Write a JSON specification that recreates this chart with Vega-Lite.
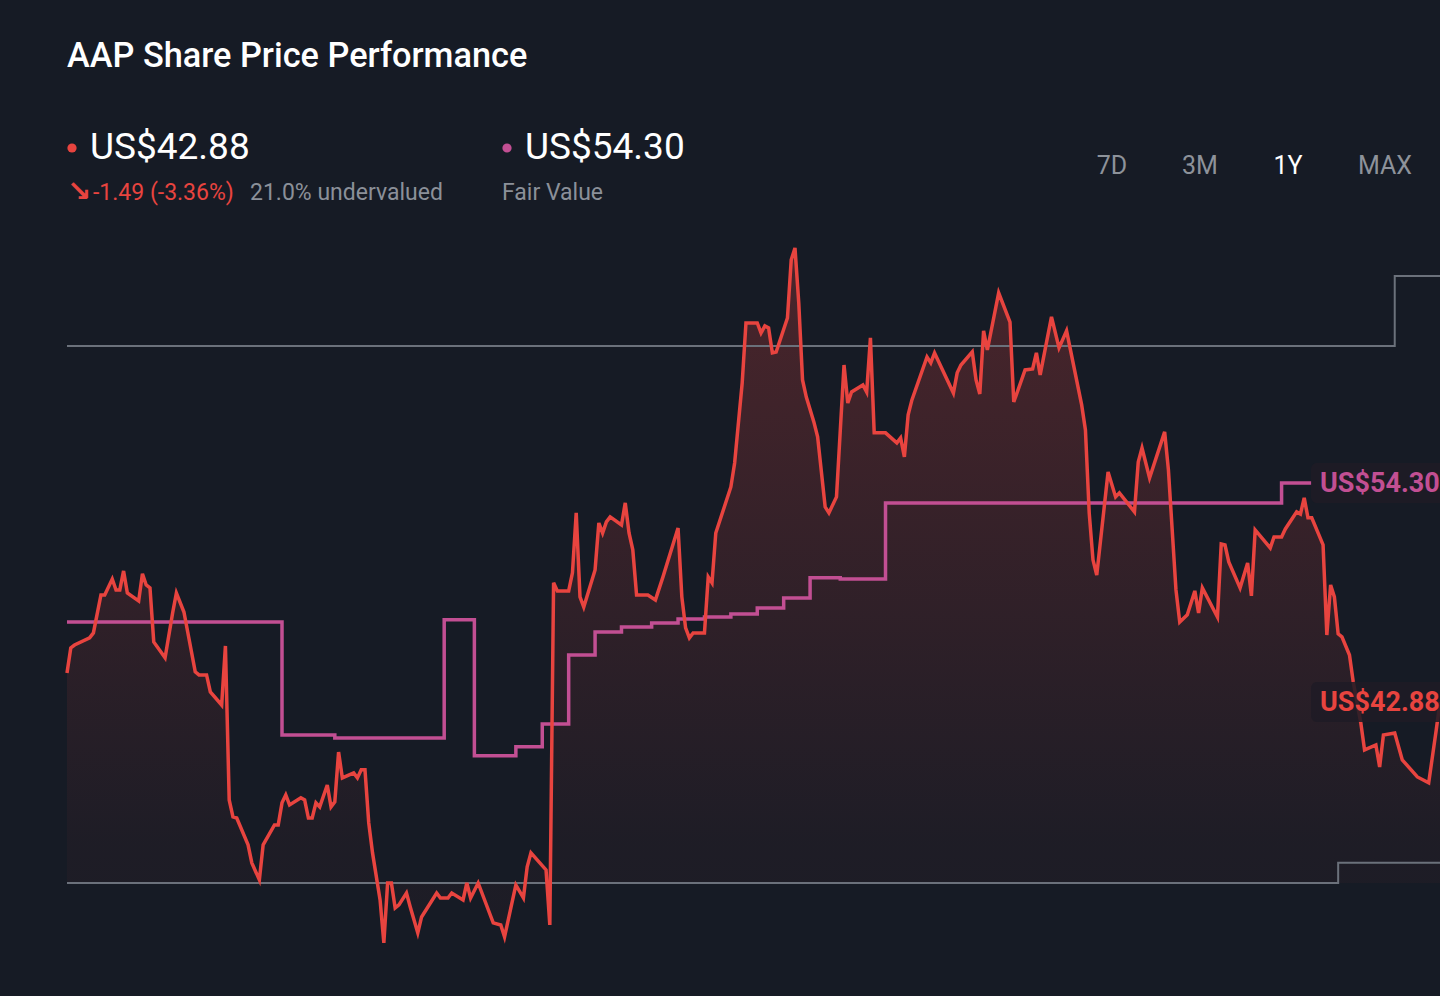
{
  "$schema": "https://vega.github.io/schema/vega-lite/v6.json",
  "autosize": {"type": "none"},
  "width": 1373,
  "height": 668,
  "padding": {"left": 67, "top": 215, "right": 0, "bottom": 113},
  "background": "#161b25",
  "title": {
    "text": "AAP Share Price Performance",
    "anchor": "start",
    "frame": "group",
    "offset": 55,
    "color": "#ffffff",
    "font": "Roboto",
    "fontSize": 34.3,
    "fontWeight": 500
  },
  "datasets": {
    "price": [
      {"date": "2025-01-13", "price": 44.39}, {"date": "2025-01-14", "price": 45.70}, {"date": "2025-01-15", "price": 45.85},
      {"date": "2025-01-19", "price": 46.22}, {"date": "2025-01-20", "price": 46.48}, {"date": "2025-01-22", "price": 48.46},
      {"date": "2025-01-23", "price": 48.46}, {"date": "2025-01-25", "price": 49.29}, {"date": "2025-01-26", "price": 48.72},
      {"date": "2025-01-27", "price": 48.72}, {"date": "2025-01-28", "price": 49.71}, {"date": "2025-01-29", "price": 48.56},
      {"date": "2025-02-01", "price": 48.15}, {"date": "2025-02-02", "price": 49.56}, {"date": "2025-02-03", "price": 48.98},
      {"date": "2025-02-04", "price": 48.83}, {"date": "2025-02-05", "price": 46.01}, {"date": "2025-02-08", "price": 45.18},
      {"date": "2025-02-10", "price": 47.52}, {"date": "2025-02-11", "price": 48.56}, {"date": "2025-02-13", "price": 47.57},
      {"date": "2025-02-16", "price": 44.45}, {"date": "2025-02-17", "price": 44.29}, {"date": "2025-02-19", "price": 44.29},
      {"date": "2025-02-20", "price": 43.40}, {"date": "2025-02-23", "price": 42.72}, {"date": "2025-02-24", "price": 45.80},
      {"date": "2025-02-25", "price": 37.77}, {"date": "2025-02-26", "price": 36.89}, {"date": "2025-02-27", "price": 36.83},
      {"date": "2025-03-02", "price": 35.43}, {"date": "2025-03-03", "price": 34.49}, {"date": "2025-03-05", "price": 33.60},
      {"date": "2025-03-06", "price": 35.43}, {"date": "2025-03-09", "price": 36.47}, {"date": "2025-03-10", "price": 36.47},
      {"date": "2025-03-11", "price": 37.62}, {"date": "2025-03-12", "price": 38.03}, {"date": "2025-03-13", "price": 37.51},
      {"date": "2025-03-16", "price": 37.88}, {"date": "2025-03-17", "price": 37.77}, {"date": "2025-03-18", "price": 36.83},
      {"date": "2025-03-19", "price": 36.83}, {"date": "2025-03-20", "price": 37.62}, {"date": "2025-03-21", "price": 37.41},
      {"date": "2025-03-23", "price": 38.55}, {"date": "2025-03-24", "price": 37.41}, {"date": "2025-03-25", "price": 37.67},
      {"date": "2025-03-26", "price": 40.27}, {"date": "2025-03-27", "price": 38.92}, {"date": "2025-03-30", "price": 39.18},
      {"date": "2025-03-31", "price": 38.92}, {"date": "2025-04-01", "price": 39.34}, {"date": "2025-04-02", "price": 39.34},
      {"date": "2025-04-03", "price": 36.57}, {"date": "2025-04-04", "price": 35.01}, {"date": "2025-04-06", "price": 32.56},
      {"date": "2025-04-07", "price": 30.32}, {"date": "2025-04-08", "price": 33.44}, {"date": "2025-04-09", "price": 33.44},
      {"date": "2025-04-10", "price": 32.14}, {"date": "2025-04-11", "price": 32.30}, {"date": "2025-04-13", "price": 32.92},
      {"date": "2025-04-14", "price": 32.19}, {"date": "2025-04-16", "price": 30.84}, {"date": "2025-04-17", "price": 31.67},
      {"date": "2025-04-21", "price": 32.92}, {"date": "2025-04-22", "price": 32.66}, {"date": "2025-04-24", "price": 32.66},
      {"date": "2025-04-25", "price": 32.92}, {"date": "2025-04-28", "price": 32.56}, {"date": "2025-04-29", "price": 33.44},
      {"date": "2025-04-30", "price": 32.66}, {"date": "2025-05-02", "price": 33.44}, {"date": "2025-05-06", "price": 31.36},
      {"date": "2025-05-08", "price": 31.25}, {"date": "2025-05-09", "price": 30.63}, {"date": "2025-05-12", "price": 33.34},
      {"date": "2025-05-14", "price": 32.66}, {"date": "2025-05-15", "price": 34.28}, {"date": "2025-05-16", "price": 35.01},
      {"date": "2025-05-20", "price": 34.12}, {"date": "2025-05-21", "price": 31.25}, {"date": "2025-05-22", "price": 49.09},
      {"date": "2025-05-23", "price": 48.67}, {"date": "2025-05-26", "price": 48.67}, {"date": "2025-05-27", "price": 49.61},
      {"date": "2025-05-28", "price": 52.74}, {"date": "2025-05-29", "price": 48.36}, {"date": "2025-05-30", "price": 47.83},
      {"date": "2025-06-02", "price": 49.76}, {"date": "2025-06-03", "price": 52.21}, {"date": "2025-06-04", "price": 51.69},
      {"date": "2025-06-05", "price": 52.27}, {"date": "2025-06-06", "price": 52.53}, {"date": "2025-06-09", "price": 52.11},
      {"date": "2025-06-10", "price": 53.26}, {"date": "2025-06-11", "price": 51.69}, {"date": "2025-06-12", "price": 50.81},
      {"date": "2025-06-13", "price": 48.46}, {"date": "2025-06-16", "price": 48.46}, {"date": "2025-06-18", "price": 48.20},
      {"date": "2025-06-20", "price": 49.40}, {"date": "2025-06-24", "price": 51.95}, {"date": "2025-06-25", "price": 48.36},
      {"date": "2025-06-26", "price": 46.74}, {"date": "2025-06-27", "price": 46.22}, {"date": "2025-06-28", "price": 46.48},
      {"date": "2025-07-01", "price": 46.48}, {"date": "2025-07-02", "price": 49.40}, {"date": "2025-07-03", "price": 49.09},
      {"date": "2025-07-04", "price": 51.69}, {"date": "2025-07-08", "price": 54.09}, {"date": "2025-07-09", "price": 55.34},
      {"date": "2025-07-11", "price": 59.51}, {"date": "2025-07-12", "price": 62.64}, {"date": "2025-07-15", "price": 62.64},
      {"date": "2025-07-16", "price": 62.12}, {"date": "2025-07-17", "price": 62.49}, {"date": "2025-07-18", "price": 62.38},
      {"date": "2025-07-19", "price": 61.08}, {"date": "2025-07-20", "price": 61.13}, {"date": "2025-07-23", "price": 62.90},
      {"date": "2025-07-24", "price": 65.93}, {"date": "2025-07-25", "price": 66.55}, {"date": "2025-07-26", "price": 63.69},
      {"date": "2025-07-27", "price": 59.67}, {"date": "2025-07-28", "price": 58.78}, {"date": "2025-07-30", "price": 57.48},
      {"date": "2025-07-31", "price": 56.70}, {"date": "2025-08-02", "price": 53.05}, {"date": "2025-08-03", "price": 52.74},
      {"date": "2025-08-05", "price": 53.57}, {"date": "2025-08-07", "price": 60.45}, {"date": "2025-08-08", "price": 58.47},
      {"date": "2025-08-09", "price": 59.04}, {"date": "2025-08-12", "price": 59.41}, {"date": "2025-08-13", "price": 59.04},
      {"date": "2025-08-14", "price": 61.86}, {"date": "2025-08-15", "price": 56.91}, {"date": "2025-08-18", "price": 56.91},
      {"date": "2025-08-21", "price": 56.39}, {"date": "2025-08-22", "price": 56.65}, {"date": "2025-08-23", "price": 55.66},
      {"date": "2025-08-24", "price": 57.85}, {"date": "2025-08-25", "price": 58.63}, {"date": "2025-08-29", "price": 60.87},
      {"date": "2025-08-30", "price": 60.56}, {"date": "2025-08-31", "price": 61.08}, {"date": "2025-09-05", "price": 58.99},
      {"date": "2025-09-06", "price": 60.04}, {"date": "2025-09-07", "price": 60.45}, {"date": "2025-09-10", "price": 61.13},
      {"date": "2025-09-11", "price": 59.67}, {"date": "2025-09-12", "price": 58.94}, {"date": "2025-09-13", "price": 62.23},
      {"date": "2025-09-14", "price": 61.23}, {"date": "2025-09-17", "price": 64.21}, {"date": "2025-09-20", "price": 62.69},
      {"date": "2025-09-21", "price": 58.52}, {"date": "2025-09-24", "price": 60.19}, {"date": "2025-09-26", "price": 60.24},
      {"date": "2025-09-27", "price": 61.08}, {"date": "2025-09-28", "price": 59.93}, {"date": "2025-10-01", "price": 62.96},
      {"date": "2025-10-03", "price": 61.34}, {"date": "2025-10-05", "price": 62.23}, {"date": "2025-10-09", "price": 58.37},
      {"date": "2025-10-10", "price": 57.06}, {"date": "2025-10-11", "price": 52.74}, {"date": "2025-10-12", "price": 50.29},
      {"date": "2025-10-13", "price": 49.50}, {"date": "2025-10-16", "price": 54.87}, {"date": "2025-10-18", "price": 53.57},
      {"date": "2025-10-19", "price": 53.78}, {"date": "2025-10-23", "price": 52.79}, {"date": "2025-10-24", "price": 55.39},
      {"date": "2025-10-25", "price": 56.12}, {"date": "2025-10-27", "price": 54.56}, {"date": "2025-10-31", "price": 56.96},
      {"date": "2025-11-01", "price": 54.98}, {"date": "2025-11-03", "price": 48.72}, {"date": "2025-11-04", "price": 47.05},
      {"date": "2025-11-06", "price": 47.42}, {"date": "2025-11-08", "price": 48.67}, {"date": "2025-11-09", "price": 47.52},
      {"date": "2025-11-10", "price": 48.83}, {"date": "2025-11-14", "price": 47.31}, {"date": "2025-11-15", "price": 51.12},
      {"date": "2025-11-16", "price": 51.07}, {"date": "2025-11-17", "price": 50.18}, {"date": "2025-11-20", "price": 48.83},
      {"date": "2025-11-22", "price": 50.13}, {"date": "2025-11-23", "price": 48.41}, {"date": "2025-11-24", "price": 51.85},
      {"date": "2025-11-28", "price": 50.91}, {"date": "2025-11-29", "price": 51.48}, {"date": "2025-12-01", "price": 51.48},
      {"date": "2025-12-02", "price": 51.90}, {"date": "2025-12-05", "price": 52.79}, {"date": "2025-12-06", "price": 52.68},
      {"date": "2025-12-07", "price": 53.52}, {"date": "2025-12-08", "price": 52.48}, {"date": "2025-12-09", "price": 52.48},
      {"date": "2025-12-12", "price": 51.07}, {"date": "2025-12-13", "price": 46.37}, {"date": "2025-12-14", "price": 48.98},
      {"date": "2025-12-15", "price": 48.36}, {"date": "2025-12-16", "price": 46.43}, {"date": "2025-12-17", "price": 46.27},
      {"date": "2025-12-19", "price": 45.33}, {"date": "2025-12-20", "price": 43.92}, {"date": "2025-12-22", "price": 41.79},
      {"date": "2025-12-23", "price": 40.38}, {"date": "2025-12-26", "price": 40.64}, {"date": "2025-12-27", "price": 39.49},
      {"date": "2025-12-28", "price": 41.16}, {"date": "2025-12-31", "price": 41.26}, {"date": "2026-01-02", "price": 39.86},
      {"date": "2026-01-06", "price": 38.97}, {"date": "2026-01-09", "price": 38.66}, {"date": "2026-01-11", "price": 41.42},
      {"date": "2026-01-12", "price": 42.88}
    ],
    "fair": [
      {"date": "2025-01-13", "fair": 47.05}, {"date": "2025-03-11", "fair": 41.16}, {"date": "2025-03-25", "fair": 41.00},
      {"date": "2025-04-23", "fair": 47.16}, {"date": "2025-05-01", "fair": 40.07}, {"date": "2025-05-12", "fair": 40.54},
      {"date": "2025-05-19", "fair": 41.73}, {"date": "2025-05-26", "fair": 45.33}, {"date": "2025-06-02", "fair": 46.53},
      {"date": "2025-06-09", "fair": 46.79}, {"date": "2025-06-17", "fair": 47.00}, {"date": "2025-06-24", "fair": 47.21},
      {"date": "2025-07-01", "fair": 47.31}, {"date": "2025-07-08", "fair": 47.47}, {"date": "2025-07-15", "fair": 47.78},
      {"date": "2025-07-22", "fair": 48.30}, {"date": "2025-07-29", "fair": 49.35}, {"date": "2025-08-06", "fair": 49.29},
      {"date": "2025-08-18", "fair": 53.26}, {"date": "2025-12-01", "fair": 54.30}, {"date": "2025-12-09", "fair": 54.30}
    ],
    "bands": [
      {"band": "high", "date": "2025-01-13", "level": 61.44}, {"band": "high", "date": "2025-12-31", "level": 65.09},
      {"band": "high", "date": "2026-01-12", "level": 65.09},
      {"band": "low", "date": "2025-01-13", "level": 33.44}, {"band": "low", "date": "2025-12-16", "level": 34.49},
      {"band": "low", "date": "2026-01-12", "level": 34.49}
    ],
    "tags": [
      {"series": "Fair Value", "date": "2026-01-12", "value": 54.30, "label": "US$54.30"},
      {"series": "Price", "date": "2026-01-12", "value": 42.88, "label": "US$42.88"}
    ]
  },
  "layer": [
    {
      "data": {"name": "price"},
      "mark": {
        "type": "area",
        "fill": {
          "gradient": "linear", "x1": 0, "y1": 0, "x2": 0, "y2": 1,
          "stops": [
            {"offset": 0, "color": "rgba(232,68,63,0.25)"},
            {"offset": 0.85, "color": "rgba(232,68,63,0.04)"},
            {"offset": 1, "color": "rgba(232,68,63,0.03)"}
          ]
        }
      },
      "encoding": {
        "x": {"field": "date", "type": "temporal", "axis": null, "scale": {"nice": false, "padding": 0}},
        "y": {"field": "price", "type": "quantitative", "axis": null, "scale": {"domain": [33.44, 68.27], "zero": false, "nice": false}},
        "y2": {"datum": 33.44}
      }
    },
    {
      "data": {"name": "bands"},
      "mark": {"type": "line", "interpolate": "step-after", "color": "#6b717b", "strokeWidth": 2},
      "encoding": {
        "x": {"field": "date", "type": "temporal"},
        "y": {"field": "level", "type": "quantitative"},
        "detail": {"field": "band"}
      }
    },
    {
      "data": {"name": "fair"},
      "mark": {"type": "line", "interpolate": "step-after", "color": "#c24f93", "strokeWidth": 3.5},
      "encoding": {
        "x": {"field": "date", "type": "temporal"},
        "y": {"field": "fair", "type": "quantitative"}
      }
    },
    {
      "data": {"name": "price"},
      "mark": {"type": "line", "color": "#e8443f", "strokeWidth": 3.5},
      "encoding": {
        "x": {"field": "date", "type": "temporal"},
        "y": {"field": "price", "type": "quantitative"}
      }
    },
    {
      "data": {"name": "tags"},
      "mark": {"type": "rect", "fill": "#1f1b25", "opacity": 0.88, "cornerRadius": 6, "xOffset": -129, "x2Offset": 20, "yOffset": -20, "y2Offset": 20},
      "encoding": {
        "x": {"field": "date", "type": "temporal"},
        "x2": {"field": "date"},
        "y": {"field": "value", "type": "quantitative"},
        "y2": {"field": "value"}
      }
    },
    {
      "data": {"name": "tags"},
      "mark": {"type": "text", "align": "left", "baseline": "middle", "dx": -120, "dy": 1, "font": "Roboto", "fontSize": 27, "fontWeight": "bold"},
      "encoding": {
        "x": {"field": "date", "type": "temporal"},
        "y": {"field": "value", "type": "quantitative"},
        "text": {"field": "label"},
        "color": {"field": "series", "type": "nominal", "legend": null, "scale": {"domain": ["Price", "Fair Value"], "range": ["#e8443f", "#c24f93"]}}
      }
    },
    {
      "data": {"values": [{"series": "Price"}]},
      "mark": {"type": "point", "filled": true, "size": 85, "opacity": 1, "x": 5, "y": -67},
      "encoding": {"color": {"field": "series", "type": "nominal", "legend": null}}
    },
    {
      "data": {"values": [{"series": "Fair Value"}]},
      "mark": {"type": "point", "filled": true, "size": 85, "opacity": 1, "x": 440, "y": -67},
      "encoding": {"color": {"field": "series", "type": "nominal", "legend": null}}
    },
    {
      "data": {"values": [{"text": "US$42.88"}]},
      "mark": {"type": "text", "align": "left", "baseline": "alphabetic", "font": "Roboto", "fontSize": 37, "color": "#ffffff", "x": 23, "y": -56},
      "encoding": {"text": {"field": "text"}}
    },
    {
      "data": {"values": [{"text": "US$54.30"}]},
      "mark": {"type": "text", "align": "left", "baseline": "alphabetic", "font": "Roboto", "fontSize": 37, "color": "#ffffff", "x": 458, "y": -56},
      "encoding": {"text": {"field": "text"}}
    },
    {
      "data": {"values": [{"text": "↘"}]},
      "mark": {"type": "text", "align": "left", "baseline": "alphabetic", "font": "DejaVu Sans", "fontSize": 29, "fontWeight": "bold", "color": "#e8443f", "x": 0, "y": -14},
      "encoding": {"text": {"field": "text"}}
    },
    {
      "data": {"values": [{"text": "-1.49 (-3.36%)"}]},
      "mark": {"type": "text", "align": "left", "baseline": "alphabetic", "font": "Roboto", "fontSize": 23, "color": "#e8443f", "x": 26, "y": -15},
      "encoding": {"text": {"field": "text"}}
    },
    {
      "data": {"values": [{"text": "21.0% undervalued"}]},
      "mark": {"type": "text", "align": "left", "baseline": "alphabetic", "font": "Roboto", "fontSize": 23, "color": "#8b9099", "x": 183, "y": -15},
      "encoding": {"text": {"field": "text"}}
    },
    {
      "data": {"values": [{"text": "Fair Value"}]},
      "mark": {"type": "text", "align": "left", "baseline": "alphabetic", "font": "Roboto", "fontSize": 23, "color": "#8b9099", "x": 435, "y": -15},
      "encoding": {"text": {"field": "text"}}
    },
    {
      "data": {"values": [{"range": "7D"}]},
      "mark": {"type": "text", "align": "center", "baseline": "alphabetic", "font": "Roboto", "fontSize": 25, "color": "#8d929a", "x": 1045, "y": -41},
      "encoding": {"text": {"field": "range"}}
    },
    {
      "data": {"values": [{"range": "3M"}]},
      "mark": {"type": "text", "align": "center", "baseline": "alphabetic", "font": "Roboto", "fontSize": 25, "color": "#8d929a", "x": 1133, "y": -41},
      "encoding": {"text": {"field": "range"}}
    },
    {
      "data": {"values": [{"range": "1Y"}]},
      "mark": {"type": "text", "align": "center", "baseline": "alphabetic", "font": "Roboto", "fontSize": 25, "color": "#ffffff", "x": 1221, "y": -41},
      "encoding": {"text": {"field": "range"}}
    },
    {
      "data": {"values": [{"range": "MAX"}]},
      "mark": {"type": "text", "align": "center", "baseline": "alphabetic", "font": "Roboto", "fontSize": 25, "color": "#8d929a", "x": 1318, "y": -41},
      "encoding": {"text": {"field": "range"}}
    }
  ],
  "config": {
    "view": {"stroke": null},
    "font": "Roboto"
  }
}
